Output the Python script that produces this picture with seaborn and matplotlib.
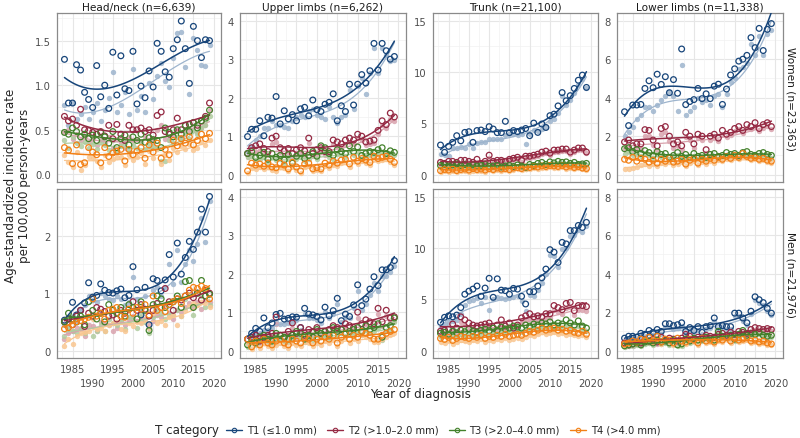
import numpy as np
import pandas as pd
import seaborn as sns
import matplotlib.pyplot as plt
from matplotlib.lines import Line2D
from matplotlib.ticker import FixedLocator

years = [1983, 1984, 1985, 1986, 1987, 1988, 1989, 1990, 1991, 1992, 1993, 1994,
         1995, 1996, 1997, 1998, 1999, 2000, 2001, 2002, 2003, 2004, 2005, 2006,
         2007, 2008, 2009, 2010, 2011, 2012, 2013, 2014, 2015, 2016, 2017, 2018, 2019]

sites = ['Head/neck (n=6,639)', 'Upper limbs (n=6,262)', 'Trunk (n=21,100)', 'Lower limbs (n=11,338)']
sexes = ['Women (n=23,363)', 'Men (n=21,976)']
cats = ['T1 (≤1.0 mm)', 'T2 (>1.0–2.0 mm)', 'T3 (>2.0–4.0 mm)', 'T4 (>4.0 mm)']

# open circles = first series, *_lt = lighter filled series
# Head/neck, women
hn_w_t1 = [1.29, 0.80, 0.80, 1.23, 1.17, 0.92, 0.84, 0.75, 1.22, 0.87, 1.00, 0.74, 1.37, 0.89, 1.33, 0.96, 0.94, 1.38, 0.79, 0.99, 0.86, 1.16, 0.98, 1.47, 1.38, 1.15, 1.09, 1.41, 1.51, 1.72, 1.41, 1.02, 1.66, 1.50, 1.31, 1.51, 1.50]
hn_w_t1_lt = [0.78, 0.55, 0.80, 0.62, 0.68, 0.75, 0.62, 0.70, 0.80, 0.60, 0.72, 0.86, 1.15, 0.70, 0.78, 0.92, 0.68, 1.18, 0.72, 0.88, 0.70, 1.02, 0.85, 1.10, 1.25, 1.05, 0.98, 1.30, 1.59, 1.60, 1.20, 0.90, 1.53, 1.40, 1.23, 1.22, 1.45]
hn_w_t2 = [0.65, 0.60, 0.62, 0.55, 0.73, 0.50, 0.49, 0.47, 0.45, 0.48, 0.43, 0.55, 0.40, 0.56, 0.45, 0.38, 0.55, 0.50, 0.50, 0.52, 0.48, 0.50, 0.44, 0.66, 0.70, 0.48, 0.45, 0.50, 0.63, 0.50, 0.55, 0.56, 0.58, 0.55, 0.60, 0.65, 0.80]
hn_w_t2_lt = [0.48, 0.50, 0.40, 0.45, 0.38, 0.42, 0.36, 0.40, 0.33, 0.38, 0.35, 0.42, 0.30, 0.40, 0.35, 0.30, 0.42, 0.38, 0.40, 0.36, 0.42, 0.38, 0.36, 0.50, 0.55, 0.40, 0.38, 0.44, 0.50, 0.42, 0.45, 0.48, 0.50, 0.48, 0.52, 0.55, 0.72]
hn_w_t3 = [0.47, 0.45, 0.52, 0.48, 0.42, 0.45, 0.40, 0.44, 0.38, 0.47, 0.42, 0.35, 0.48, 0.30, 0.40, 0.44, 0.33, 0.42, 0.38, 0.45, 0.36, 0.41, 0.39, 0.38, 0.30, 0.52, 0.47, 0.42, 0.50, 0.45, 0.55, 0.48, 0.58, 0.52, 0.60, 0.63, 0.72]
hn_w_t3_lt = [0.38, 0.30, 0.42, 0.35, 0.32, 0.36, 0.30, 0.34, 0.28, 0.36, 0.33, 0.27, 0.38, 0.25, 0.32, 0.35, 0.26, 0.33, 0.30, 0.36, 0.28, 0.34, 0.32, 0.30, 0.15, 0.15, 0.38, 0.35, 0.42, 0.38, 0.46, 0.40, 0.50, 0.45, 0.52, 0.55, 0.65]
hn_w_t4 = [0.30, 0.27, 0.12, 0.33, 0.11, 0.13, 0.30, 0.25, 0.22, 0.13, 0.30, 0.20, 0.24, 0.26, 0.28, 0.15, 0.28, 0.22, 0.26, 0.30, 0.18, 0.33, 0.25, 0.35, 0.18, 0.28, 0.22, 0.38, 0.32, 0.40, 0.35, 0.42, 0.33, 0.38, 0.45, 0.40, 0.46]
hn_w_t4_lt = [0.22, 0.14, 0.08, 0.25, 0.05, 0.10, 0.20, 0.18, 0.15, 0.08, 0.22, 0.14, 0.17, 0.20, 0.20, 0.10, 0.22, 0.16, 0.20, 0.24, 0.12, 0.26, 0.18, 0.28, 0.12, 0.22, 0.16, 0.30, 0.25, 0.32, 0.28, 0.34, 0.27, 0.30, 0.36, 0.33, 0.38]

# Upper limbs, women
ul_w_t1 = [0.99, 1.18, 1.18, 1.40, 1.01, 1.49, 1.47, 2.03, 1.32, 1.66, 1.45, 1.56, 1.40, 1.71, 1.75, 1.53, 1.94, 1.69, 1.64, 1.83, 1.88, 2.10, 1.40, 1.79, 1.64, 2.35, 1.81, 2.35, 2.60, 2.38, 2.70, 3.41, 2.72, 3.41, 3.22, 3.00, 3.07]
ul_w_t1_lt = [0.60, 0.75, 0.90, 1.00, 1.20, 1.20, 1.40, 1.30, 1.30, 1.25, 1.20, 1.40, 1.50, 1.55, 1.50, 1.65, 1.70, 1.55, 1.50, 1.45, 1.75, 1.50, 1.35, 1.50, 1.55, 2.20, 1.70, 2.30, 2.50, 2.10, 2.65, 3.30, 2.65, 3.30, 3.10, 2.95, 2.98]
ul_w_t2 = [0.55, 0.70, 0.75, 0.80, 0.68, 0.60, 0.95, 1.00, 0.70, 0.62, 0.68, 0.55, 0.65, 0.70, 0.62, 0.95, 0.55, 0.65, 0.70, 0.60, 0.60, 0.90, 0.85, 0.80, 0.90, 0.95, 0.90, 1.05, 1.00, 0.85, 0.87, 0.90, 1.15, 1.40, 1.30, 1.60, 1.50]
ul_w_t2_lt = [0.45, 0.55, 0.60, 0.65, 0.55, 0.50, 0.80, 0.85, 0.60, 0.52, 0.58, 0.45, 0.55, 0.60, 0.52, 0.82, 0.48, 0.55, 0.60, 0.52, 0.52, 0.80, 0.75, 0.70, 0.80, 0.85, 0.80, 0.95, 0.90, 0.78, 0.80, 0.82, 1.05, 1.30, 1.20, 1.45, 1.40]
ul_w_t3 = [0.55, 0.60, 0.45, 0.50, 0.58, 0.40, 0.55, 0.45, 0.50, 0.38, 0.52, 0.30, 0.48, 0.55, 0.42, 0.50, 0.60, 0.48, 0.75, 0.70, 0.55, 0.50, 0.65, 0.60, 0.55, 0.75, 0.60, 0.72, 0.50, 0.55, 0.60, 0.58, 0.65, 0.70, 0.55, 0.62, 0.58]
ul_w_t3_lt = [0.45, 0.48, 0.38, 0.40, 0.45, 0.32, 0.45, 0.38, 0.40, 0.30, 0.42, 0.25, 0.40, 0.45, 0.35, 0.42, 0.50, 0.40, 0.62, 0.60, 0.45, 0.42, 0.55, 0.50, 0.45, 0.65, 0.50, 0.62, 0.42, 0.48, 0.52, 0.50, 0.55, 0.60, 0.48, 0.55, 0.50]
ul_w_t4 = [0.10, 0.30, 0.25, 0.28, 0.22, 0.30, 0.20, 0.18, 0.30, 0.25, 0.15, 0.32, 0.20, 0.10, 0.28, 0.30, 0.15, 0.18, 0.15, 0.30, 0.25, 0.35, 0.30, 0.38, 0.40, 0.28, 0.45, 0.35, 0.42, 0.38, 0.32, 0.48, 0.42, 0.45, 0.48, 0.40, 0.32]
ul_w_t4_lt = [0.05, 0.18, 0.15, 0.20, 0.15, 0.20, 0.12, 0.10, 0.20, 0.18, 0.10, 0.22, 0.12, 0.05, 0.20, 0.22, 0.10, 0.12, 0.10, 0.22, 0.18, 0.26, 0.22, 0.30, 0.32, 0.20, 0.36, 0.28, 0.35, 0.30, 0.25, 0.40, 0.35, 0.38, 0.40, 0.33, 0.25]

# Trunk, women
tr_w_t1 = [2.89, 2.18, 2.76, 3.15, 3.80, 3.30, 4.12, 4.19, 3.15, 4.30, 4.35, 4.20, 4.68, 4.45, 4.10, 4.10, 5.20, 4.10, 4.30, 4.20, 4.35, 4.50, 3.80, 5.03, 4.12, 4.94, 4.60, 5.75, 5.90, 6.70, 8.00, 7.20, 7.70, 8.40, 9.20, 9.70, 8.50]
tr_w_t1_lt = [2.00, 1.90, 1.80, 2.60, 2.60, 2.70, 2.60, 3.00, 2.60, 3.10, 3.20, 3.15, 3.50, 3.50, 3.45, 3.50, 3.90, 3.95, 4.00, 3.90, 3.95, 3.00, 4.00, 4.40, 4.30, 4.50, 4.60, 5.20, 5.40, 6.00, 7.70, 6.80, 7.30, 8.00, 8.70, 9.30, 8.40]
tr_w_t2 = [1.20, 1.10, 1.30, 1.30, 1.20, 1.40, 1.40, 1.30, 1.20, 1.50, 1.10, 1.30, 1.90, 1.30, 1.40, 1.40, 1.30, 1.50, 1.60, 1.70, 1.40, 1.80, 1.80, 1.90, 2.00, 2.20, 2.30, 2.10, 2.40, 2.40, 2.50, 2.50, 2.20, 2.40, 2.60, 2.60, 2.20]
tr_w_t2_lt = [0.90, 0.85, 1.00, 1.05, 1.00, 1.15, 1.15, 1.10, 1.00, 1.25, 0.95, 1.10, 1.60, 1.10, 1.20, 1.20, 1.15, 1.30, 1.40, 1.50, 1.25, 1.60, 1.60, 1.70, 1.80, 2.00, 2.10, 1.90, 2.20, 2.20, 2.30, 2.35, 2.05, 2.25, 2.45, 2.45, 2.10]
tr_w_t3 = [0.90, 1.00, 0.85, 0.95, 1.05, 0.90, 1.00, 0.80, 0.95, 0.85, 0.90, 1.00, 0.80, 0.85, 0.90, 0.75, 0.85, 0.90, 0.80, 0.95, 0.85, 0.70, 1.00, 0.90, 1.10, 1.20, 1.00, 1.25, 1.15, 1.30, 1.20, 1.25, 1.10, 1.20, 1.00, 1.05, 1.10]
tr_w_t3_lt = [0.70, 0.80, 0.65, 0.75, 0.85, 0.70, 0.80, 0.60, 0.75, 0.65, 0.70, 0.80, 0.62, 0.65, 0.70, 0.58, 0.65, 0.70, 0.62, 0.75, 0.65, 0.55, 0.80, 0.72, 0.90, 1.00, 0.82, 1.05, 0.95, 1.10, 1.00, 1.05, 0.92, 1.00, 0.85, 0.88, 0.92]
tr_w_t4 = [0.40, 0.50, 0.45, 0.55, 0.40, 0.50, 0.55, 0.45, 0.60, 0.50, 0.55, 0.45, 0.60, 0.50, 0.65, 0.55, 0.60, 0.50, 0.65, 0.70, 0.60, 0.75, 0.70, 0.80, 0.75, 0.85, 0.80, 0.90, 0.85, 0.80, 0.90, 0.75, 0.85, 0.70, 0.80, 0.65, 0.60]
tr_w_t4_lt = [0.25, 0.32, 0.30, 0.35, 0.28, 0.32, 0.38, 0.30, 0.40, 0.35, 0.38, 0.30, 0.42, 0.35, 0.45, 0.38, 0.42, 0.35, 0.48, 0.52, 0.45, 0.58, 0.55, 0.62, 0.58, 0.68, 0.62, 0.72, 0.68, 0.65, 0.72, 0.60, 0.68, 0.56, 0.65, 0.52, 0.48]

# Lower limbs, women
ll_w_t1 = [3.27, 2.55, 3.62, 3.62, 3.65, 4.48, 4.88, 4.52, 5.22, 4.69, 5.09, 4.26, 4.94, 4.23, 6.53, 3.64, 3.80, 3.90, 4.48, 3.95, 4.20, 3.95, 4.60, 4.70, 3.65, 4.45, 5.18, 5.50, 5.90, 6.00, 6.20, 7.12, 6.60, 7.60, 6.45, 7.55, 7.85]
ll_w_t1_lt = [2.00, 2.20, 2.50, 2.90, 3.10, 3.50, 3.50, 3.30, 3.60, 3.90, 4.10, 4.30, 4.10, 3.30, 5.70, 3.10, 3.30, 3.50, 4.00, 3.80, 3.90, 3.60, 4.10, 4.20, 3.50, 4.20, 4.80, 5.00, 5.50, 5.60, 5.80, 6.80, 6.20, 7.20, 6.20, 7.30, 7.50]
ll_w_t2 = [1.70, 1.80, 1.50, 1.60, 1.60, 2.34, 2.30, 1.80, 1.50, 2.40, 2.50, 2.00, 1.60, 1.70, 1.50, 2.20, 2.00, 1.60, 2.10, 2.00, 1.30, 2.00, 2.10, 1.90, 2.30, 2.10, 2.20, 2.40, 2.50, 2.30, 2.60, 2.50, 2.70, 2.40, 2.60, 2.70, 2.50]
ll_w_t2_lt = [1.40, 1.50, 1.30, 1.40, 1.35, 2.00, 2.00, 1.55, 1.30, 2.10, 2.20, 1.75, 1.40, 1.50, 1.30, 1.95, 1.80, 1.40, 1.90, 1.80, 1.15, 1.80, 1.90, 1.75, 2.10, 1.95, 2.05, 2.25, 2.35, 2.15, 2.45, 2.35, 2.55, 2.25, 2.45, 2.55, 2.35]
ll_w_t3 = [1.35, 1.40, 1.20, 1.30, 1.10, 1.25, 1.15, 1.00, 1.20, 1.05, 1.10, 0.90, 1.00, 1.15, 0.95, 1.05, 0.90, 1.10, 0.95, 1.00, 0.90, 1.05, 1.10, 0.95, 1.00, 1.15, 1.05, 1.10, 1.00, 1.15, 1.20, 1.05, 1.00, 1.10, 1.15, 1.05, 1.00]
ll_w_t3_lt = [1.10, 1.20, 1.00, 1.10, 0.95, 1.05, 1.00, 0.85, 1.05, 0.90, 0.95, 0.78, 0.88, 1.00, 0.82, 0.92, 0.78, 0.95, 0.82, 0.88, 0.78, 0.92, 0.95, 0.82, 0.88, 1.00, 0.92, 0.95, 0.88, 1.00, 1.05, 0.92, 0.88, 0.95, 1.00, 0.92, 0.88]
ll_w_t4 = [0.80, 0.75, 0.90, 0.70, 0.85, 0.80, 0.65, 0.75, 0.60, 0.80, 0.70, 0.85, 0.65, 0.70, 0.80, 0.55, 0.75, 0.85, 0.60, 0.80, 0.70, 0.85, 0.75, 0.90, 0.80, 0.95, 0.85, 1.00, 0.90, 1.10, 0.95, 0.85, 0.90, 0.80, 0.85, 0.75, 0.70]
ll_w_t4_lt = [0.30, 0.30, 0.35, 0.40, 0.50, 0.55, 0.45, 0.55, 0.45, 0.60, 0.55, 0.65, 0.50, 0.55, 0.65, 0.45, 0.60, 0.70, 0.50, 0.65, 0.58, 0.72, 0.62, 0.78, 0.70, 0.82, 0.75, 0.88, 0.80, 0.95, 0.85, 0.75, 0.80, 0.70, 0.75, 0.65, 0.62]

# Head/neck, men
hn_m_t1 = [0.53, 0.55, 0.84, 0.62, 0.70, 0.83, 1.18, 0.93, 0.96, 1.16, 1.05, 1.01, 1.00, 1.04, 1.07, 0.92, 0.96, 1.46, 1.06, 0.62, 1.10, 0.45, 1.25, 1.22, 1.04, 1.23, 1.67, 1.28, 1.87, 1.33, 1.62, 1.90, 1.76, 2.06, 2.46, 2.06, 2.68]
hn_m_t1_lt = [0.45, 0.40, 0.60, 0.50, 0.70, 0.80, 0.95, 0.88, 0.85, 1.00, 0.95, 0.90, 0.88, 0.95, 0.90, 0.80, 0.85, 1.28, 0.90, 0.50, 0.95, 0.40, 1.05, 1.10, 0.95, 1.10, 1.50, 1.15, 1.75, 1.20, 1.50, 1.75, 1.55, 1.85, 2.30, 1.88, 2.60]
hn_m_t2 = [0.50, 0.55, 0.45, 0.60, 0.70, 0.42, 0.65, 0.60, 0.75, 0.72, 0.68, 0.60, 0.62, 0.55, 0.70, 0.65, 0.72, 0.85, 0.70, 0.80, 0.72, 0.60, 0.70, 0.82, 0.75, 1.08, 0.85, 0.70, 0.90, 0.88, 0.95, 1.00, 0.92, 1.00, 0.88, 1.05, 1.00]
hn_m_t2_lt = [0.20, 0.30, 0.35, 0.40, 0.38, 0.25, 0.45, 0.42, 0.35, 0.50, 0.48, 0.45, 0.35, 0.40, 0.50, 0.45, 0.55, 0.60, 0.52, 0.58, 0.55, 0.45, 0.52, 0.62, 0.58, 0.80, 0.65, 0.55, 0.70, 0.68, 0.75, 0.82, 0.75, 0.85, 0.72, 0.88, 0.85]
hn_m_t3 = [0.50, 0.65, 0.55, 0.50, 0.60, 0.45, 0.85, 0.70, 0.55, 0.65, 0.50, 0.80, 0.70, 0.65, 0.75, 0.60, 0.80, 0.75, 0.55, 0.85, 0.70, 0.35, 0.80, 0.95, 0.90, 0.75, 0.80, 0.85, 0.95, 0.75, 1.20, 1.22, 0.75, 1.00, 1.22, 0.95, 0.98]
hn_m_t3_lt = [0.25, 0.40, 0.35, 0.30, 0.40, 0.30, 0.60, 0.25, 0.35, 0.45, 0.35, 0.55, 0.48, 0.45, 0.52, 0.38, 0.58, 0.55, 0.40, 0.62, 0.50, 0.30, 0.58, 0.70, 0.65, 0.55, 0.60, 0.62, 0.70, 0.60, 0.90, 0.95, 0.62, 0.80, 0.95, 0.75, 0.80]
hn_m_t4 = [0.38, 0.40, 0.45, 0.50, 0.52, 0.55, 0.58, 0.90, 0.60, 0.65, 0.55, 0.70, 0.72, 0.75, 0.60, 0.58, 0.72, 0.65, 0.75, 0.72, 0.80, 0.62, 0.95, 0.70, 0.75, 0.68, 0.80, 0.85, 0.90, 0.82, 0.95, 1.05, 1.10, 1.08, 1.12, 1.08, 0.90]
hn_m_t4_lt = [0.08, 0.20, 0.12, 0.25, 0.30, 0.32, 0.35, 0.55, 0.38, 0.40, 0.35, 0.45, 0.48, 0.50, 0.38, 0.35, 0.48, 0.42, 0.50, 0.48, 0.55, 0.40, 0.65, 0.48, 0.52, 0.45, 0.58, 0.62, 0.45, 0.60, 0.70, 0.78, 0.82, 0.80, 0.85, 0.82, 0.75]

# Upper limbs, men
ul_m_t1 = [0.30, 0.45, 0.58, 0.50, 0.85, 0.60, 0.72, 0.94, 0.97, 0.82, 0.84, 0.88, 0.87, 0.60, 1.10, 0.95, 0.93, 0.89, 0.80, 1.13, 0.91, 1.04, 1.36, 0.78, 0.95, 0.89, 1.19, 1.71, 1.17, 1.34, 1.60, 1.92, 1.69, 2.10, 2.10, 2.16, 2.34]
ul_m_t1_lt = [0.20, 0.30, 0.40, 0.45, 0.55, 0.50, 0.60, 0.75, 0.70, 0.70, 0.72, 0.75, 0.80, 0.55, 0.95, 0.85, 0.85, 0.80, 0.72, 1.00, 0.85, 0.95, 1.20, 0.75, 0.88, 0.85, 1.10, 1.55, 1.05, 1.20, 1.45, 1.75, 1.55, 1.95, 1.95, 2.05, 2.20]
ul_m_t2 = [0.30, 0.35, 0.40, 0.25, 0.35, 0.40, 0.45, 0.87, 0.40, 0.35, 0.50, 0.72, 0.45, 0.60, 0.40, 0.55, 0.50, 0.60, 0.45, 0.50, 0.55, 0.65, 0.60, 0.55, 0.70, 0.65, 0.60, 1.00, 0.70, 0.80, 0.75, 0.70, 1.10, 0.75, 1.05, 0.85, 0.88]
ul_m_t2_lt = [0.20, 0.25, 0.30, 0.20, 0.25, 0.30, 0.35, 0.70, 0.30, 0.28, 0.40, 0.60, 0.35, 0.50, 0.32, 0.45, 0.42, 0.50, 0.38, 0.42, 0.45, 0.55, 0.50, 0.45, 0.60, 0.55, 0.50, 0.85, 0.60, 0.70, 0.65, 0.60, 0.95, 0.65, 0.90, 0.75, 0.78]
ul_m_t3 = [0.15, 0.30, 0.20, 0.35, 0.40, 0.30, 0.25, 0.45, 0.40, 0.35, 0.30, 0.40, 0.50, 0.45, 0.30, 0.40, 0.35, 0.55, 0.45, 0.50, 0.40, 0.60, 0.50, 0.55, 0.45, 0.50, 0.55, 0.60, 0.50, 0.65, 0.55, 0.60, 0.70, 0.35, 0.60, 0.65, 0.85]
ul_m_t3_lt = [0.10, 0.20, 0.15, 0.25, 0.30, 0.22, 0.18, 0.35, 0.30, 0.25, 0.22, 0.30, 0.40, 0.35, 0.22, 0.30, 0.28, 0.45, 0.35, 0.40, 0.32, 0.50, 0.40, 0.45, 0.35, 0.40, 0.45, 0.50, 0.42, 0.55, 0.45, 0.50, 0.60, 0.28, 0.50, 0.55, 0.75]
ul_m_t4 = [0.30, 0.10, 0.25, 0.15, 0.30, 0.20, 0.15, 0.25, 0.30, 0.20, 0.15, 0.30, 0.25, 0.20, 0.35, 0.30, 0.20, 0.30, 0.25, 0.35, 0.30, 0.40, 0.20, 0.35, 0.45, 0.30, 0.40, 0.35, 0.50, 0.45, 0.40, 0.30, 0.30, 0.40, 0.45, 0.50, 0.55]
ul_m_t4_lt = [0.20, 0.05, 0.15, 0.08, 0.20, 0.12, 0.08, 0.15, 0.20, 0.12, 0.08, 0.20, 0.15, 0.12, 0.25, 0.20, 0.12, 0.20, 0.15, 0.25, 0.20, 0.30, 0.12, 0.25, 0.35, 0.20, 0.30, 0.25, 0.40, 0.35, 0.30, 0.22, 0.22, 0.30, 0.35, 0.40, 0.45]

# Trunk, men
tr_m_t1 = [2.76, 3.25, 3.40, 3.30, 3.47, 4.20, 5.50, 5.80, 6.00, 6.30, 5.30, 6.10, 7.05, 5.20, 7.00, 5.90, 5.85, 5.50, 6.07, 6.00, 5.30, 4.55, 5.75, 5.75, 6.30, 7.10, 7.95, 9.84, 9.60, 8.60, 10.55, 10.40, 11.70, 11.70, 12.20, 12.00, 12.50]
tr_m_t1_lt = [2.30, 2.60, 2.80, 2.90, 3.00, 3.60, 4.50, 4.80, 4.90, 5.10, 4.60, 5.20, 4.00, 5.00, 5.20, 5.10, 5.00, 5.10, 5.20, 5.30, 4.80, 3.90, 5.40, 5.30, 5.90, 6.60, 7.50, 9.30, 9.20, 8.20, 9.90, 10.00, 11.20, 11.30, 11.80, 11.60, 12.10]
tr_m_t2 = [1.90, 2.00, 2.10, 2.60, 2.20, 3.30, 3.00, 2.70, 2.50, 2.40, 2.50, 2.60, 2.70, 2.20, 2.50, 3.00, 2.40, 2.70, 2.20, 2.50, 3.20, 3.40, 3.60, 3.30, 3.40, 3.30, 3.60, 3.60, 4.40, 4.20, 4.00, 4.60, 4.70, 3.90, 4.40, 4.40, 4.30]
tr_m_t2_lt = [1.50, 1.60, 1.70, 2.10, 1.80, 2.80, 2.50, 2.30, 2.10, 2.00, 2.10, 2.20, 2.30, 1.90, 2.10, 2.60, 2.00, 2.30, 1.90, 2.10, 2.80, 3.00, 3.20, 2.90, 3.00, 2.90, 3.20, 3.20, 4.00, 3.80, 3.60, 4.20, 4.30, 3.50, 4.00, 4.00, 3.90]
tr_m_t3 = [1.70, 1.80, 1.60, 1.90, 1.75, 2.00, 1.85, 2.10, 1.90, 1.80, 2.00, 2.10, 1.95, 2.20, 2.00, 2.30, 2.10, 2.20, 2.40, 2.30, 2.20, 2.50, 2.40, 2.60, 2.50, 2.70, 2.60, 2.80, 2.50, 2.70, 2.60, 3.00, 2.70, 2.50, 2.90, 2.40, 2.20]
tr_m_t3_lt = [1.30, 1.40, 1.20, 1.50, 1.35, 1.60, 1.45, 1.70, 1.50, 1.40, 1.60, 1.70, 1.55, 1.80, 1.60, 1.90, 1.70, 1.80, 2.00, 1.90, 1.80, 2.10, 2.00, 2.20, 2.10, 2.30, 2.20, 2.40, 2.10, 2.30, 2.20, 2.60, 2.30, 2.10, 2.50, 2.00, 1.90]
tr_m_t4 = [1.20, 1.10, 1.30, 1.00, 1.20, 1.40, 1.30, 1.20, 1.40, 1.30, 1.50, 1.20, 1.40, 1.30, 1.50, 1.40, 1.60, 1.40, 1.50, 1.60, 1.50, 1.70, 1.90, 1.80, 2.00, 2.20, 2.00, 2.10, 2.20, 2.00, 2.10, 1.90, 2.00, 1.80, 1.70, 1.90, 1.60]
tr_m_t4_lt = [0.80, 0.75, 0.90, 0.70, 0.85, 1.00, 0.95, 0.85, 1.00, 0.95, 1.10, 0.85, 1.00, 0.95, 1.10, 1.05, 1.20, 1.05, 1.15, 1.20, 1.15, 1.30, 1.50, 1.40, 1.60, 1.80, 1.65, 1.75, 1.85, 1.65, 1.75, 1.55, 1.65, 1.50, 1.40, 1.55, 1.30]

# Lower limbs, men
ll_m_t1 = [0.65, 0.75, 0.75, 0.70, 0.90, 0.85, 1.05, 0.95, 1.10, 1.00, 1.40, 1.40, 1.30, 1.35, 1.45, 1.00, 1.20, 1.05, 1.25, 0.95, 1.25, 1.30, 1.70, 1.25, 1.30, 1.25, 1.25, 1.95, 1.95, 1.70, 1.45, 2.05, 2.80, 2.65, 2.50, 2.20, 1.95]
ll_m_t1_lt = [0.50, 0.60, 0.62, 0.60, 0.75, 0.72, 0.90, 0.80, 0.95, 0.88, 1.25, 1.25, 1.15, 1.20, 1.30, 0.90, 1.05, 0.95, 1.10, 0.85, 1.12, 1.18, 1.55, 1.12, 1.18, 1.12, 1.12, 1.80, 1.80, 1.55, 1.35, 1.90, 2.65, 2.50, 2.35, 2.05, 1.85]
ll_m_t2 = [0.40, 0.30, 0.35, 0.45, 0.40, 0.55, 0.50, 0.60, 0.45, 0.70, 0.55, 0.65, 0.60, 0.50, 0.65, 0.85, 0.75, 0.60, 0.70, 0.65, 0.80, 0.75, 0.70, 0.85, 0.90, 0.80, 0.95, 0.85, 1.00, 0.95, 0.90, 1.10, 1.20, 1.15, 1.10, 1.15, 1.10]
ll_m_t2_lt = [0.30, 0.22, 0.25, 0.35, 0.30, 0.45, 0.40, 0.50, 0.35, 0.58, 0.45, 0.55, 0.50, 0.40, 0.55, 0.72, 0.65, 0.50, 0.60, 0.55, 0.70, 0.65, 0.60, 0.75, 0.80, 0.70, 0.85, 0.75, 0.90, 0.85, 0.80, 1.00, 1.10, 1.05, 1.00, 1.05, 1.00]
ll_m_t3 = [0.25, 0.30, 0.35, 0.40, 0.30, 0.45, 0.50, 0.40, 0.55, 0.45, 0.50, 0.40, 0.55, 0.30, 0.35, 0.60, 0.50, 0.65, 0.55, 0.60, 0.70, 0.65, 0.55, 1.00, 0.75, 0.70, 0.80, 0.60, 0.85, 1.05, 0.80, 0.90, 0.85, 0.95, 0.80, 0.75, 0.80]
ll_m_t3_lt = [0.18, 0.22, 0.25, 0.30, 0.22, 0.35, 0.40, 0.30, 0.45, 0.35, 0.40, 0.30, 0.45, 0.22, 0.25, 0.50, 0.40, 0.55, 0.45, 0.50, 0.60, 0.55, 0.45, 0.85, 0.65, 0.60, 0.70, 0.50, 0.75, 0.92, 0.70, 0.80, 0.75, 0.85, 0.70, 0.65, 0.70]
ll_m_t4 = [0.35, 0.40, 0.50, 0.45, 0.60, 0.55, 0.70, 0.50, 0.75, 0.45, 0.60, 0.55, 0.40, 0.65, 0.50, 0.45, 0.60, 0.55, 0.40, 0.65, 0.50, 0.55, 0.45, 0.60, 0.55, 0.70, 0.50, 0.65, 0.55, 0.60, 0.70, 0.50, 0.55, 0.45, 0.50, 0.40, 0.35]
ll_m_t4_lt = [0.25, 0.30, 0.40, 0.35, 0.50, 0.45, 0.60, 0.40, 0.65, 0.35, 0.50, 0.45, 0.30, 0.55, 0.40, 0.35, 0.50, 0.45, 0.30, 0.55, 0.40, 0.45, 0.35, 0.50, 0.45, 0.60, 0.40, 0.55, 0.45, 0.50, 0.60, 0.40, 0.45, 0.35, 0.40, 0.30, 0.28]

panels = {
    (0, 0): [(hn_w_t1, hn_w_t1_lt), (hn_w_t2, hn_w_t2_lt), (hn_w_t3, hn_w_t3_lt), (hn_w_t4, hn_w_t4_lt)],
    (0, 1): [(ul_w_t1, ul_w_t1_lt), (ul_w_t2, ul_w_t2_lt), (ul_w_t3, ul_w_t3_lt), (ul_w_t4, ul_w_t4_lt)],
    (0, 2): [(tr_w_t1, tr_w_t1_lt), (tr_w_t2, tr_w_t2_lt), (tr_w_t3, tr_w_t3_lt), (tr_w_t4, tr_w_t4_lt)],
    (0, 3): [(ll_w_t1, ll_w_t1_lt), (ll_w_t2, ll_w_t2_lt), (ll_w_t3, ll_w_t3_lt), (ll_w_t4, ll_w_t4_lt)],
    (1, 0): [(hn_m_t1, hn_m_t1_lt), (hn_m_t2, hn_m_t2_lt), (hn_m_t3, hn_m_t3_lt), (hn_m_t4, hn_m_t4_lt)],
    (1, 1): [(ul_m_t1, ul_m_t1_lt), (ul_m_t2, ul_m_t2_lt), (ul_m_t3, ul_m_t3_lt), (ul_m_t4, ul_m_t4_lt)],
    (1, 2): [(tr_m_t1, tr_m_t1_lt), (tr_m_t2, tr_m_t2_lt), (tr_m_t3, tr_m_t3_lt), (tr_m_t4, tr_m_t4_lt)],
    (1, 3): [(ll_m_t1, ll_m_t1_lt), (ll_m_t2, ll_m_t2_lt), (ll_m_t3, ll_m_t3_lt), (ll_m_t4, ll_m_t4_lt)],
}

# long table
recs = []
for (r, c), series in panels.items():
    for k, (a, b) in enumerate(series):
        for yr, va, vb in zip(years, a, b):
            recs.append((r, c, cats[k], 'main', yr, va))
            recs.append((r, c, cats[k], 'light', yr, vb))
df = pd.DataFrame(recs, columns=['row', 'col', 'cat', 'kind', 'year', 'rate'])

dark = ['#17457a', '#952943', '#43812b', '#f28016']
light = ['#9db4cd', '#d9a2ad', '#b0cc9f', '#f9c690']

ylims = {0: [(-0.086, 1.81), (-0.19, 4.2), (-0.71, 15.75), (-0.38, 8.4)],
         1: [(-0.128, 2.81), (-0.19, 4.2), (-0.71, 15.75), (-0.38, 8.4)]}
yticks = [[0, 0.5, 1.0, 1.5], [0, 1, 2, 3, 4], [0, 5, 10, 15], [0, 2, 4, 6, 8]]
yticks_m = [[0, 1, 2], [0, 1, 2, 3, 4], [0, 5, 10, 15], [0, 2, 4, 6, 8]]
x_row1 = [1985, 1995, 2005, 2015]
x_row2 = [1990, 2000, 2010, 2020]
x_minor = [1982.5, 1987.5, 1992.5, 1997.5, 2002.5, 2007.5, 2012.5, 2017.5]

W, H = 800, 439
lefts = [57, 240, 433, 617]
rights = [221, 406, 598, 783]
tops = [14, 190]
bottoms = [183, 359]

sns.set_style('white')
fig = plt.figure(figsize=(8, 4.39), dpi=100)

for r in range(2):
    for c in range(4):
        ax = fig.add_axes([lefts[c] / W, 1 - bottoms[r] / H,
                           (rights[c] - lefts[c]) / W, (bottoms[r] - tops[r]) / H])
        sub = df[(df.row == r) & (df.col == c)]
        for k, cat in enumerate(cats):
            d = sub[(sub.cat == cat) & (sub.kind == 'light')]
            sns.scatterplot(data=d, x='year', y='rate', ax=ax, color=light[k],
                            s=15, linewidth=0, alpha=0.85, zorder=2)
        for k, cat in enumerate(cats):
            d = sub[(sub.cat == cat) & (sub.kind == 'light')]
            sns.regplot(data=d, x='year', y='rate', ax=ax, order=3, ci=None,
                        scatter=False, color=light[k], line_kws={'lw': 0.9, 'zorder': 3})
        for k, cat in enumerate(cats):
            d = sub[(sub.cat == cat) & (sub.kind == 'main')]
            sns.scatterplot(data=d, x='year', y='rate', ax=ax, color=dark[k],
                            facecolor='none', edgecolor=dark[k], s=17,
                            linewidth=0.9, zorder=4)
        for k, cat in enumerate(cats):
            d = sub[(sub.cat == cat) & (sub.kind == 'main')]
            sns.regplot(data=d, x='year', y='rate', ax=ax, order=3, ci=None,
                        scatter=False, color=dark[k], line_kws={'lw': 1.1, 'zorder': 5})

        ax.set_xlim(1981.15, 2021.85)
        ax.set_ylim(*ylims[r][c])
        yt = yticks[c] if r == 0 else yticks_m[c]
        ax.set_yticks(yt)
        if r == 0 and c == 0:
            ax.set_yticklabels(['0.0', '0.5', '1.0', '1.5'])
        else:
            ax.set_yticklabels([str(v) for v in yt])
        step = yt[1] - yt[0]
        ymin_lines = [v + step / 2 for v in yt]
        # grid drawn by hand (major + minor)
        for v in yt:
            ax.axhline(v, color='#e6e6e6', lw=0.8, zorder=0)
        for v in ymin_lines:
            ax.axhline(v, color='#f2f2f2', lw=0.5, zorder=0)
        for v in x_row1 + x_row2:
            ax.axvline(v, color='#e6e6e6', lw=0.8, zorder=0)
        for v in x_minor:
            ax.axvline(v, color='#f2f2f2', lw=0.5, zorder=0)

        ax.set_xticks(x_row1)
        ax.set_xticks(x_row2, minor=True)
        if r == 1:
            ax.set_xticklabels([str(v) for v in x_row1])
            ax.set_xticklabels([str(v) for v in x_row2], minor=True)
            ax.tick_params(axis='x', which='major', length=3, color='#555555',
                           labelsize=7.2, labelcolor='#4d4d4d', pad=1.5)
            ax.tick_params(axis='x', which='minor', length=3, color='#555555',
                           labelsize=7.2, labelcolor='#4d4d4d', pad=11.5)
        else:
            ax.set_xticklabels([])
            ax.set_xticklabels([], minor=True)
            ax.tick_params(axis='x', which='both', length=0)
            ax.set_title(sites[c], fontsize=7.6, pad=2.5, color='#1a1a1a')
        ax.tick_params(axis='y', which='major', length=3, color='#555555',
                       labelsize=7.2, labelcolor='#4d4d4d', pad=1.5)
        ax.grid(False)
        for sp in ax.spines.values():
            sp.set_color('#8a8a8a')
            sp.set_linewidth(0.9)
        ax.set_xlabel('')
        ax.set_ylabel('')

# row strips
for r, lab in enumerate(sexes):
    yc = 1 - (tops[r] + bottoms[r]) / 2 / H
    fig.text(791 / W, yc, lab, rotation=270, ha='center', va='center',
             fontsize=7.6, color='#1a1a1a')

fig.text(420 / W, 1 - 395 / H, 'Year of diagnosis', ha='center', va='center', fontsize=8.6)
fig.text(18 / W, 1 - 186 / H, 'Age-standardized incidence rate\nper 100,000 person-years',
         rotation=90, ha='center', va='center', fontsize=8.6, linespacing=1.1,
         multialignment='center')

fig.text(155 / W, 1 - 431 / H, 'T category', ha='left', va='center', fontsize=8.6)
handles = [Line2D([], [], color=dark[k], lw=1.0, marker='o', ms=3.2, mfc='none',
                  mec=dark[k], mew=0.8) for k in range(4)]
fig.legend(handles, cats, loc='center left', bbox_to_anchor=(226 / W, 1 - 431 / H),
           ncol=4, frameon=False, fontsize=7.2, handlelength=1.6, handletextpad=0.5,
           columnspacing=1.0, borderaxespad=0, borderpad=0)

fig.savefig('out.png', dpi=100)
